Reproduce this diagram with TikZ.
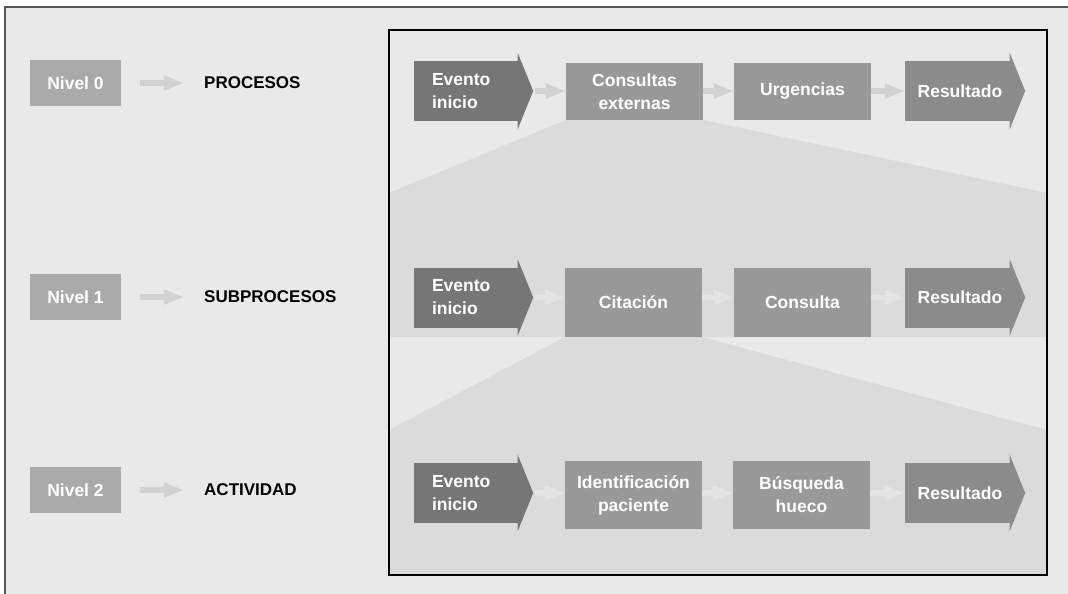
\documentclass[tikz,border=0pt]{standalone}
\usepackage{fontspec}
\setmainfont{Liberation Sans}
\usetikzlibrary{arrows.meta,calc,positioning}
\definecolor{bgfill}{RGB}{233,233,233}
\definecolor{bandfill}{RGB}{219,219,219}
\definecolor{nivgray}{RGB}{170,170,170}
\definecolor{stepgray}{RGB}{153,153,153}
\definecolor{evgray}{RGB}{118,118,118}
\definecolor{resgray}{RGB}{139,139,139}
\definecolor{conngray}{RGB}{210,210,210}
\definecolor{connlight}{RGB}{228,228,228}
\definecolor{framegray}{RGB}{85,85,85}

\begin{document}
\begin{tikzpicture}[x=1pt,y=-1pt,
  lbl/.style={font=\fontsize{17.5}{23}\selectfont\bfseries,text=white,align=center,inner sep=0pt},
  nivbox/.style={lbl,fill=nivgray,minimum width=91pt,minimum height=46pt},
  lvltxt/.style={font=\fontsize{17}{22}\selectfont\bfseries,inner sep=0pt,anchor=west},
  stepbox/.style={lbl,fill=stepgray,minimum width=137pt},
  conn/.style={conngray,line width=5.5pt,-{Triangle[length=20pt,width=14pt]}}]
  \useasboundingbox (0,0) rectangle (1068,594);
  % frame and bands
  \fill[bgfill] (5,7) rectangle (1068,594);
  \draw[framegray,line width=1.5pt] (5,594) -- (5,7) -- (1068,7);
  \fill[bandfill] (566,120) -- (703,120) -- (1047,193) -- (1047,337)
     -- (389,337) -- (389,193) -- cycle;
  \fill[bandfill] (565,337) -- (702,337) -- (1047,430) -- (1047,575)
     -- (389,575) -- (389,430) -- cycle;
  \draw[line width=1.5pt] (389,30) rectangle (1047,575);

  % levels
  \foreach \i/\y/\t in {0/83/PROCESOS,1/297/SUBPROCESOS,2/490/ACTIVIDAD}{
    \node[nivbox] (n\i) at (75.5,\y) {Nivel \i};
    \node[lvltxt] (p\i) at (204,\y) {\t};
    \draw[conn,shorten <=19pt,shorten >=20pt] (n\i.east) -- (n\i.east -| p\i.west);
  }

  % start and result arrows
  \foreach \i/\y in {0/91,1/297.5,2/493}{
    \node[lbl,fill=evgray,minimum width=104pt,minimum height=60pt,
          text width=68pt,align=left] (ev\i) at (466,\y) {Evento\\inicio};
    \fill[evgray] ($(ev\i.north east)+(-0.5,-8)$) -- ($(ev\i.east)+(15,0)$)
       -- ($(ev\i.south east)+(-0.5,8)$) -- cycle;
    \coordinate (evt\i) at ($(ev\i.east)+(15,0)$);
    \node[lbl,fill=resgray,minimum width=105pt,minimum height=60pt] (rs\i) at (957.5,\y) {~Resultado};
    \fill[resgray] ($(rs\i.north east)+(-0.5,-8)$) -- ($(rs\i.east)+(15,0)$)
       -- ($(rs\i.south east)+(-0.5,8)$) -- cycle;
  }

  % level 0
  \node[stepbox,minimum height=57pt] (ce) at (634.5,91.5) {Consultas\\externas};
  \node[stepbox,minimum height=57pt] (ur) at (802.5,91.5) {Urgencias};
  % level 1
  \node[stepbox,minimum height=69pt] (ci) at (633.5,302.5) {Citación};
  \node[stepbox,minimum height=69pt] (co) at (802.5,302.5) {Consulta};
  % level 2
  \node[stepbox,minimum height=68pt] (id) at (633.5,495) {Identificación\\paciente};
  \node[stepbox,minimum height=68pt] (bh) at (801.5,495) {Búsqueda\\hueco};

  % connectors
  \draw[conn,shorten <=2pt] (evt0) -- (evt0 -| ce.west);
  \draw[conn] (evt0 -| ce.east) -- (evt0 -| ur.west);
  \draw[conn] (evt0 -| ur.east) -- (evt0 -| rs0.west);
  \draw[conn,connlight,shorten <=2pt] (evt1) -- (evt1 -| ci.west);
  \draw[conn,connlight] (evt1 -| ci.east) -- (evt1 -| co.west);
  \draw[conn,connlight] (evt1 -| co.east) -- (evt1 -| rs1.west);
  \draw[conn,connlight,shorten <=2pt] (evt2) -- (evt2 -| id.west);
  \draw[conn,connlight] (evt2 -| id.east) -- (evt2 -| bh.west);
  \draw[conn,connlight] (evt2 -| bh.east) -- (evt2 -| rs2.west);
\end{tikzpicture}
\end{document}
